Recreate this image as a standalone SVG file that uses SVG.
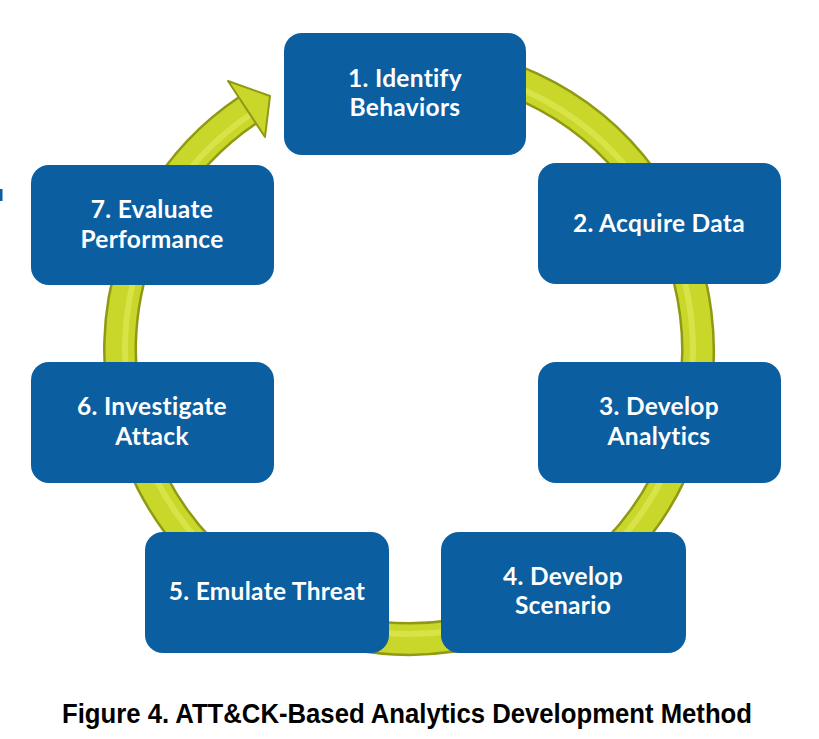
<svg xmlns="http://www.w3.org/2000/svg" width="819" height="739" viewBox="0 0 819 739">
<style>
.box{fill:#0b5e9f}
.t{font-family:Lato,"Open Sans",sans-serif;font-weight:bold;font-size:24.5px;letter-spacing:0.3px;fill:#ffffff;text-anchor:middle}
.cap{font-family:"Liberation Sans",Arial,sans-serif;font-weight:bold;font-size:28px;fill:#000000}
</style>
<rect width="819" height="739" fill="#ffffff"/>
<rect x="0" y="189" width="2.5" height="12" fill="#0b5e9f"/>
<g id="connectors">
<path d="M 406 61 A 289 289 0 1 1 248 110" fill="none" stroke="#8f9a12" stroke-width="34"/>
<path d="M 406 61 A 289 289 0 1 1 248 110" fill="none" stroke="#c9d62a" stroke-width="29"/>
<path d="M 406 66 A 284 284 0 1 1 251 114" fill="none" stroke="#d8e348" stroke-width="6"/>
<polygon points="228,81 270,96 265,137" fill="#c9d62a" stroke="#8f9a12" stroke-width="2" stroke-linejoin="round"/>
</g>
<g id="n1"><rect class="box" x="284" y="33" width="242" height="122" rx="18"/><text class="t" x="405" y="87">1. Identify</text><text class="t" x="405" y="116">Behaviors</text></g>
<g id="n2"><rect class="box" x="538" y="163" width="243" height="121" rx="18"/><text class="t" x="659" y="232">2. Acquire Data</text></g>
<g id="n3"><rect class="box" x="538" y="362" width="243" height="121" rx="18"/><text class="t" x="659" y="415">3. Develop</text><text class="t" x="659" y="445">Analytics</text></g>
<g id="n4"><rect class="box" x="441" y="532" width="245" height="121" rx="18"/><text class="t" x="563" y="585">4. Develop</text><text class="t" x="563" y="614">Scenario</text></g>
<g id="n5"><rect class="box" x="145" y="532" width="244" height="121" rx="18"/><text class="t" x="267" y="600">5. Emulate Threat</text></g>
<g id="n6"><rect class="box" x="31" y="362" width="243" height="121" rx="18"/><text class="t" x="152" y="415">6. Investigate</text><text class="t" x="152" y="445">Attack</text></g>
<g id="n7"><rect class="box" x="31" y="165" width="243" height="120" rx="18"/><text class="t" x="152" y="218">7. Evaluate</text><text class="t" x="152" y="248">Performance</text></g>
<text class="cap" x="62" y="723" textLength="690" lengthAdjust="spacingAndGlyphs">Figure 4. ATT&amp;CK-Based Analytics Development Method</text>
</svg>
